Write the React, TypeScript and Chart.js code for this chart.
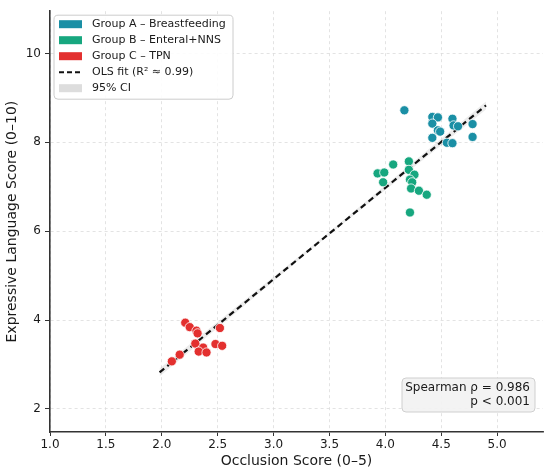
import { useEffect, useRef } from 'react';
import { Chart, registerables } from 'chart.js';

Chart.register(...registerables);

// occlusion score (x) and expressive language score (y) for each group
const groupAX = [4.17, 4.42, 4.47, 4.6, 4.42, 4.78, 4.61, 4.65, 4.47, 4.49, 4.42, 4.78, 4.55, 4.6];
const groupAY = [8.72, 8.57, 8.56, 8.53, 8.42, 8.41, 8.38, 8.36, 8.27, 8.24, 8.1, 8.12, 7.99, 7.98];
const groupBX = [4.21, 4.07, 3.93, 3.99, 4.21, 4.26, 4.22, 4.24, 3.98, 4.23, 4.3, 4.37, 4.22];
const groupBY = [7.57, 7.5, 7.3, 7.32, 7.38, 7.27, 7.16, 7.1, 7.1, 6.96, 6.91, 6.82, 6.42];
const groupCX = [2.21, 2.25, 2.31, 2.32, 2.52, 2.3, 2.37, 2.33, 2.4, 2.48, 2.54, 2.16, 2.09];
const groupCY = [3.94, 3.84, 3.76, 3.7, 3.82, 3.47, 3.38, 3.29, 3.27, 3.46, 3.42, 3.22, 3.07];

// OLS fit line and its 95% CI band
const fitX = [1.98, 4.9];
const fitY = [2.82, 8.83];
const ciX = [1.98, 3.44, 4.9];
const ciLow = [2.73, 5.8, 8.74];
const ciHigh = [2.91, 5.86, 8.92];

const xTicks = [1.0, 1.5, 2.0, 2.5, 3.0, 3.5, 4.0, 4.5, 5.0];
const yTicks = [2, 4, 6, 8, 10];

const groupLabels = ['Group A – Breastfeeding', 'Group B – Enteral+NNS', 'Group C – TPN'];
const groupColors = ['#1a8fa5', '#17a77f', '#e3302f'];
const fitLabel = 'OLS fit (R² ≈ 0.99)';
const ciLabel = '95% CI';
const statLines = ['Spearman ρ = 0.986', 'p < 0.001'];

const FONT = "'DejaVu Sans', sans-serif";
const INK = '#1a1a1a';

const zip = (xs: number[], ys: number[]) => xs.map((x, i) => ({ x, y: ys[i] }));

const legendBox = {
  id: 'legendBox',
  afterDraw(chart: Chart) {
    const { ctx, chartArea } = chart;
    const left = chartArea.left + 4;
    const top = chartArea.top + 4;
    ctx.save();
    ctx.beginPath();
    ctx.roundRect(left, top, 179, 84, 4);
    ctx.fillStyle = 'rgba(255,255,255,0.9)';
    ctx.fill();
    ctx.strokeStyle = '#cccccc';
    ctx.lineWidth = 1;
    ctx.stroke();

    ctx.font = `11px ${FONT}`;
    ctx.textBaseline = 'middle';
    const rows = [...groupLabels, fitLabel, ciLabel];
    rows.forEach((label, i) => {
      const cy = top + 9 + i * 16;
      const sx = left + 5;
      if (i < 3) {
        ctx.fillStyle = groupColors[i];
        ctx.fillRect(sx, cy - 4, 23, 8);
      } else if (i === 3) {
        ctx.strokeStyle = '#111';
        ctx.lineWidth = 2;
        ctx.setLineDash([5, 3]);
        ctx.beginPath();
        ctx.moveTo(sx, cy);
        ctx.lineTo(sx + 23, cy);
        ctx.stroke();
        ctx.setLineDash([]);
      } else {
        ctx.fillStyle = '#dddddd';
        ctx.fillRect(sx, cy - 4, 23, 8);
      }
      ctx.fillStyle = INK;
      ctx.fillText(label, left + 38, cy);
    });
    ctx.restore();
  },
};

const statBox = {
  id: 'statBox',
  afterDraw(chart: Chart) {
    const { ctx, chartArea } = chart;
    const right = chartArea.right - 8;
    const bottom = chartArea.bottom - 20;
    const w = 133;
    const h = 34;
    ctx.save();
    ctx.beginPath();
    ctx.roundRect(right - w, bottom - h, w, h, 4);
    ctx.fillStyle = 'rgba(242,242,242,0.95)';
    ctx.fill();
    ctx.strokeStyle = '#cfcfcf';
    ctx.lineWidth = 1;
    ctx.stroke();
    ctx.font = `12px ${FONT}`;
    ctx.fillStyle = INK;
    ctx.textAlign = 'right';
    ctx.textBaseline = 'middle';
    statLines.forEach((line, i) => {
      ctx.fillText(line, right - 5, bottom - h + 10 + i * 14);
    });
    ctx.restore();
  },
};

export default function App() {
  const canvas = useRef<HTMLCanvasElement | null>(null);
  const chartRef = useRef<Chart | null>(null);

  useEffect(() => {
    document.body.style.margin = '0';
    const node = canvas.current;
    if (!node) {
      return;
    }
    chartRef.current?.destroy();

    Chart.defaults.font.family = FONT;
    Chart.defaults.color = INK;

    const groupSets = [
      zip(groupAX, groupAY),
      zip(groupBX, groupBY),
      zip(groupCX, groupCY),
    ].map((data, i) => ({
      type: 'scatter' as const,
      label: groupLabels[i],
      data,
      backgroundColor: groupColors[i],
      borderColor: '#ffffff',
      borderWidth: 0.8,
      pointRadius: 4.6,
      order: 0,
    }));

    chartRef.current = new Chart(node, {
      type: 'scatter',
      data: {
        datasets: [
          {
            type: 'line',
            label: 'ci-low',
            data: zip(ciX, ciLow),
            borderWidth: 0,
            pointRadius: 0,
            fill: false,
            order: 3,
          },
          {
            type: 'line',
            label: ciLabel,
            data: zip(ciX, ciHigh),
            borderWidth: 0,
            pointRadius: 0,
            backgroundColor: 'rgba(150,150,150,0.18)',
            fill: '-1',
            order: 2,
          },
          {
            type: 'line',
            label: fitLabel,
            data: zip(fitX, fitY),
            borderColor: '#111',
            borderWidth: 2.2,
            borderDash: [6, 4],
            pointRadius: 0,
            fill: false,
            order: 1,
          },
          ...groupSets,
        ],
      },
      options: {
        responsive: true,
        maintainAspectRatio: false,
        animation: false,
        layout: { padding: { top: 4, right: 7, left: 0, bottom: 0 } },
        plugins: {
          legend: { display: false },
          tooltip: { enabled: false },
        },
        scales: {
          x: {
            type: 'linear',
            min: 1.0,
            max: 5.41,
            afterFit: (scale) => {
              scale.height = 39;
            },
            afterBuildTicks: (axis) => {
              axis.ticks = xTicks.map((value) => ({ value }));
            },
            ticks: {
              font: { size: 12 },
              color: INK,
              padding: 2,
              callback: (v) => Number(v).toFixed(1),
            },
            grid: {
              color: '#dcdcdc',
              lineWidth: 0.8,
              tickColor: '#333',
              tickLength: 4,
              tickWidth: 1,
              tickBorderDash: [],
            },
            border: { display: true, color: '#333', width: 1.6, dash: [3, 3] },
            title: {
              display: true,
              text: 'Occlusion Score (0–5)',
              font: { size: 14 },
              color: INK,
              padding: { top: 0, bottom: 1 },
            },
          },
          y: {
            type: 'linear',
            min: 1.48,
            max: 10.95,
            afterFit: (scale) => {
              scale.width = 50;
            },
            afterBuildTicks: (axis) => {
              axis.ticks = yTicks.map((value) => ({ value }));
            },
            ticks: {
              font: { size: 12 },
              color: INK,
              padding: 4,
            },
            grid: {
              color: '#dcdcdc',
              lineWidth: 0.8,
              tickColor: '#333',
              tickLength: 5,
              tickWidth: 1,
              tickBorderDash: [],
            },
            border: { display: true, color: '#333', width: 1.6, dash: [3, 3] },
            title: {
              display: true,
              text: 'Expressive Language Score (0–10)',
              font: { size: 14 },
              color: INK,
              padding: { top: 4, bottom: 0 },
            },
          },
        },
      },
      plugins: [legendBox, statBox],
    });

    return () => {
      chartRef.current?.destroy();
      chartRef.current = null;
    };
  }, []);

  return (
    <div style={{ position: 'relative', width: 550, height: 471 }}>
      <canvas ref={canvas} role="img" aria-label="Occlusion score vs expressive language score" />
    </div>
  );
}
